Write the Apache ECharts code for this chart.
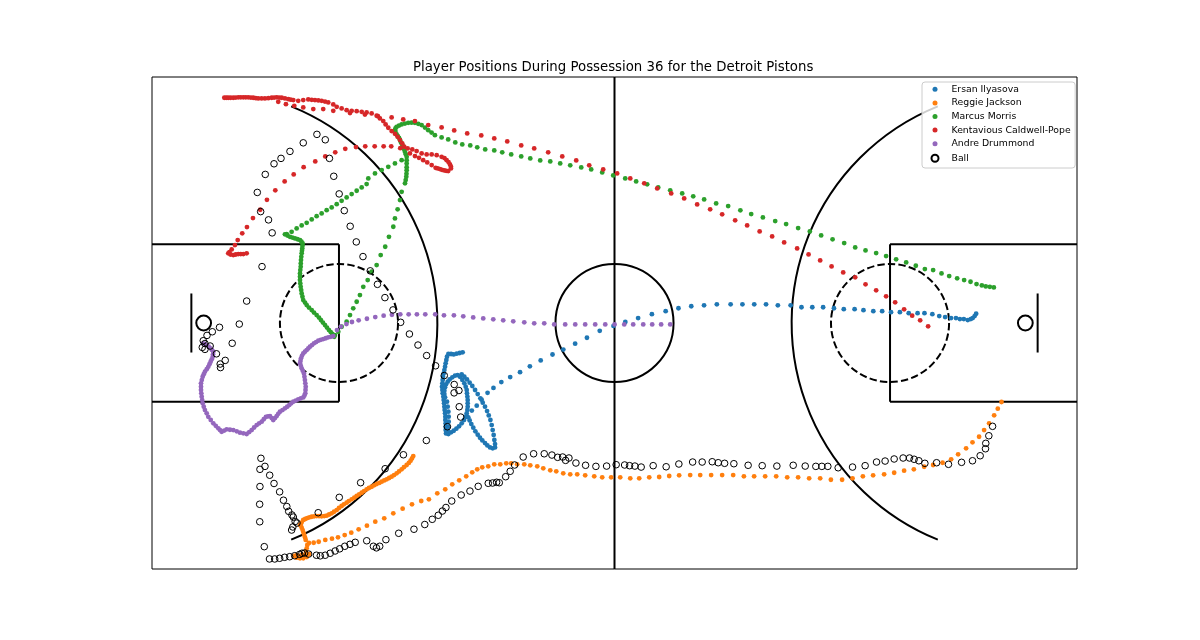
<!DOCTYPE html>
<html><head><meta charset="utf-8">
<script src="https://cdn.jsdelivr.net/npm/echarts@6/dist/echarts.min.js"></script>
<style>html,body{margin:0;padding:0;background:#fff}#chart{width:1200px;height:640px}</style>
</head><body><div id="chart"></div>
<script>
// ---- data (court coordinates in feet: x 0..94, y 0..50) ----
const chartTitle = 'Player Positions During Possession 36 for the Detroit Pistons';
const playerNames = ['Ersan Ilyasova', 'Reggie Jackson', 'Marcus Morris', 'Kentavious Caldwell-Pope', 'Andre Drummond'];
const playerColors = ['#1f77b4', '#ff7f0e', '#2ca02c', '#d62728', '#9467bd'];
const ballName = 'Ball';

const ilyasova = [
[83.75,25.94],[83.6,25.7],[83.4,25.5],[83.2,25.4],[82.9,25.3],[82.5,25.4],[82.1,25.4],[81.7,25.5],[81.2,25.5],[80.6,25.6],[80.0,25.7],[79.3,25.9],[78.5,26.0],[77.8,26.0],[76.9,26.0],[76.0,26.1],[75.1,26.1],[74.2,26.2],[73.3,26.2],[72.3,26.3],[71.4,26.4],[70.3,26.4],[69.3,26.5],[68.2,26.6],[67.1,26.6],[66.0,26.6],[64.9,26.8],[63.6,26.8],[62.4,26.9],[61.2,26.9],[60.0,26.9],[58.8,26.9],[57.4,26.9],[56.1,26.8],[54.8,26.7],[53.5,26.5],[52.2,26.2],[50.8,25.9],[49.4,25.5],[48.1,25.1],[46.9,24.7],[45.5,24.2],[44.2,23.5],[43.0,22.9],[41.8,22.3],[40.7,21.8],[39.5,21.2],[38.4,20.6],[37.4,20.0],[36.4,19.5],[35.5,19.0],[34.7,18.4],[34.1,17.9],[33.5,17.2],[33.0,16.6],[32.5,16.1],[32.0,15.5],
[31.57,22.02],[31.27,21.95],[30.96,21.88],[30.66,21.81],[30.39,21.85],[30.12,21.85],[29.98,21.58],[29.91,21.24],[29.84,20.90],[29.78,20.56],[29.71,20.22],[29.64,19.88],[29.57,19.54],[29.54,19.21],[29.51,18.87],[29.47,18.53],[29.51,18.19],[29.54,17.85],[29.61,17.51],[29.64,17.17],[29.68,16.84],[29.71,16.50],[29.74,16.16],[29.78,15.82],[29.81,15.48],[29.81,15.14],[29.84,14.80],[29.84,14.46],[29.84,14.12],[29.88,13.78],
[30.12,13.72],[30.39,13.89],[30.66,14.05],[30.93,14.26],[31.20,14.50],[31.47,14.80],[31.71,15.14],[31.88,15.48],
[31.98,15.82],[32.05,16.16],[32.08,16.50],[32.08,16.84],[32.08,17.17],[32.05,17.51],[32.01,17.85],[31.98,18.19],[31.88,18.53],[31.74,18.87],[31.54,19.21],[31.30,19.54],
[31.06,19.71],[30.79,19.65],[30.52,19.48],[30.25,19.27],[30.05,19.04],[29.88,18.77],[29.78,18.46],[29.71,18.12],[29.71,17.78],[29.78,17.45],
[29.98,17.00],[30.05,16.50],[30.12,15.99],[30.15,15.48],[30.15,14.97],[30.12,14.46],[30.05,14.06],
[31.47,19.78],[31.74,19.54],[32.01,19.27],[32.28,18.94],[32.55,18.60],[32.83,18.19],[33.10,17.78],[33.37,17.34],[33.61,16.90],[33.84,16.50],[34.05,16.05],[34.22,15.61],[34.39,15.14],[34.52,14.63],[34.62,14.12],[34.72,13.62],[34.79,13.11],[34.86,12.70],[34.86,12.36],[34.62,12.26],[34.35,12.36],[34.08,12.56],[33.84,12.80],[33.57,13.07],[33.33,13.34],[33.10,13.65],[32.86,13.99],[32.65,14.36],[32.45,14.73],[32.28,15.10],[32.14,15.41]
];

const jackson = [
[86.33,16.97],[85.95,16.29],[85.58,15.62],[85.07,14.80],[84.56,14.12],[84.05,13.44],[83.38,12.87],[82.73,12.26],[81.92,11.65],[81.21,11.15],[80.34,10.80],[79.38,10.57],[78.47,10.39],[77.42,10.13],[76.43,9.99],[75.42,9.78],[74.40,9.62],[73.28,9.52],[72.24,9.42],[71.19,9.22],[70.13,9.07],[68.99,9.07],[67.90,9.22],[66.78,9.22],[65.66,9.32],[64.55,9.32],[63.43,9.42],[62.31,9.42],[61.19,9.42],[60.15,9.42],
[59.06,9.55],[57.94,9.55],[56.82,9.55],[55.71,9.55],[54.69,9.55],[53.57,9.52],[52.56,9.45],[51.54,9.35],[50.53,9.32],[49.51,9.22],[48.60,9.22],[47.58,9.32],[46.66,9.32],[45.75,9.32],[44.94,9.42],[44.02,9.52],[43.21,9.62],[42.50,9.62],[41.79,9.72],[41.08,9.93],[40.47,10.03],[39.76,10.23],[39.15,10.43],[38.44,10.54],[37.83,10.64],[37.11,10.64],[36.50,10.74],[36.00,10.74],[35.39,10.64],[34.78,10.64],[34.17,10.43],[33.56,10.33],[33.05,10.13],[32.54,9.82],[31.93,9.42],[31.22,9.01],[30.51,8.61],[29.80,8.10],[28.99,7.69],[28.14,7.08],
[27.36,6.91],[26.42,6.57],[25.47,6.13],[24.52,5.66],[23.60,5.15],[22.69,4.81],[21.84,4.40],[21.00,4.03],[20.25,3.69],[19.58,3.45],[18.90,3.22],[18.29,3.08],[17.61,2.95],[16.94,2.77],[16.43,2.67],[15.95,2.64],[15.78,2.44],[15.72,2.10],[15.65,1.76],
[15.98,1.52],[15.54,1.37],[15.04,1.32],[14.70,1.42],[14.46,1.32],[14.70,1.15],[15.04,1.09],[15.37,1.09],[15.72,1.22],[15.34,1.32],[14.83,1.22],[15.24,1.47],
[15.62,2.95],[15.55,3.20],[15.47,3.45],[15.39,3.70],[15.31,3.96],[15.21,4.20],[15.11,4.47],
[15.04,4.47],[15.20,4.72],[15.37,4.98],[15.57,5.08],[15.78,5.18],[16.00,5.25],[16.23,5.31],[16.48,5.35],[16.73,5.38],[16.98,5.37],[17.24,5.35],[17.50,5.38],[17.75,5.42],[18.00,5.54],[18.26,5.66],[18.50,5.82],[18.77,5.99],[19.00,6.20],[19.27,6.40],[19.50,6.57],[19.78,6.74],[20.00,6.90],[20.29,7.08],[20.55,7.25],[20.80,7.42],[21.05,7.58],[21.31,7.75],[21.55,7.92],[21.81,8.10],[22.05,8.23],[22.32,8.36],[22.57,8.50],[22.83,8.64],[23.10,8.75],[23.34,8.87],[23.60,9.00],[23.85,9.11],[24.10,9.25],[24.35,9.38],[24.60,9.55],[24.86,9.72],[25.10,9.92],[25.37,10.13],[25.60,10.35],[25.88,10.57],[26.10,10.78],[26.28,11.00],[26.42,11.24],[26.55,11.48]
];

const morris = [
[85.55,28.62],[85.14,28.68],[84.73,28.72],[84.33,28.82],[83.79,28.96],[83.18,29.19],[82.53,29.36],[81.82,29.54],[81.01,29.77],[80.23,30.04],[79.38,30.38],[78.54,30.48],[77.62,30.82],[76.64,31.16],[75.62,31.47],[74.60,31.80],[73.59,32.11],[72.51,32.38],[71.46,32.68],[70.34,33.12],[69.16,33.50],[68.00,33.90],[66.85,34.31],[65.66,34.65],[64.44,35.05],[63.33,35.36],[62.08,35.73],[60.89,36.07],[59.79,36.45],[58.55,36.88],[57.33,37.15],[56.11,37.56],[55.00,37.87],[53.88,38.17],[52.66,38.48],[51.44,38.78],[50.32,39.09],[49.20,39.39],[48.09,39.69],[46.87,40.00],[45.75,40.30],[44.63,40.61],[43.62,40.81],[42.50,41.02],[41.48,41.22],[40.47,41.42],[39.45,41.52],[38.44,41.73],[37.52,41.93],[36.50,42.13],[35.59,42.34],[34.78,42.54],[33.86,42.64],[33.05,42.85],[32.34,43.05],[31.53,43.15],[30.82,43.35],[30.10,43.66],[29.43,43.86],
[28.75,44.09],[28.41,44.35],[28.07,44.60],[27.74,44.86],[27.40,45.11],[27.06,45.24],[26.72,45.34],[26.38,45.36],[26.04,45.34],[25.70,45.27],[25.37,45.18],[25.10,45.06],[24.86,44.94],[24.74,44.77],[24.69,44.60],[24.74,44.40],[24.86,44.17],[24.98,43.99],[25.10,43.82],[25.20,43.60],[25.30,43.35],[25.42,43.13],[25.53,42.91],[25.62,42.65],[25.70,42.40],[25.79,42.15],[25.88,41.89],
[25.88,41.55],[25.88,41.22],[25.88,40.84],[25.88,40.53],[25.86,40.18],[25.84,39.86],[25.78,39.52],[25.71,39.19],
[25.37,38.33],[25.20,37.49],[24.96,36.55],[24.69,35.63],[24.52,34.78],[24.08,33.76],[23.70,32.75],[23.24,31.90],[22.83,30.89],[22.32,30.21],[21.92,29.36],[21.47,28.68],[21.13,27.84],[20.80,27.16],[20.45,26.49],[20.12,25.81],[19.78,25.13],[19.27,24.62],[18.93,24.11],[18.59,23.77],
[25.37,41.55],[24.69,41.22],[24.01,40.87],[23.34,40.54],[22.66,40.20],[21.98,39.69],[21.81,39.12],[21.31,38.78],[20.80,38.44],[20.29,38.10],[19.78,37.76],[19.27,37.42],[18.77,37.08],[18.26,36.75],[17.75,36.47],[17.24,36.14],[16.73,35.86],[16.23,35.53],[15.72,35.18],[15.21,34.92],[14.70,34.61],[14.19,34.27],[13.69,34.04],
[13.51,34.01],[13.77,33.89],[14.02,33.76],[14.27,33.68],[14.53,33.60],[14.79,33.51],[15.04,33.43],[15.19,33.26],[15.31,33.09],[15.29,32.84],[15.27,32.58],[15.24,32.33],[15.21,32.08],[15.17,31.73],[15.14,31.39],[15.12,31.05],[15.11,30.71],[15.07,30.38],[15.04,30.04],[15.04,29.70],[15.04,29.36],[15.07,29.02],[15.11,28.68],[15.16,28.35],[15.21,28.01],[15.29,27.67],[15.37,27.33],[15.55,27.08],[15.72,26.82],[15.95,26.57],[16.23,26.31],[16.46,26.06],[16.73,25.81],[16.97,25.55],[17.17,25.30],[17.37,25.04],[17.58,24.79],[17.78,24.54],[17.98,24.28],[18.16,24.08],[18.32,23.88],[18.52,23.60]
];

const caldwellPope = [
[78.87,24.66],[78.06,25.27],[77.25,25.74],[76.43,26.39],[75.52,27.10],[74.60,27.71],[73.59,28.32],[72.51,28.93],[71.46,29.64],[70.24,30.14],[69.06,30.75],[67.90,31.36],[66.72,31.97],[65.56,32.58],[64.24,33.19],[63.02,33.80],[61.75,34.31],[60.48,34.92],[59.26,35.43],[57.94,36.04],[56.72,36.55],[55.40,37.05],[54.08,37.66],[52.76,38.17],[51.34,38.68],[50.02,39.19],[48.60,39.69],[47.27,40.20],[45.85,40.61],[44.43,41.02],[43.11,41.52],[41.69,41.93],[40.26,42.34],[38.84,42.74],[37.52,43.05],[36.10,43.45],[34.78,43.76],[33.46,44.06],[32.03,44.27],[30.71,44.57],[29.43,44.88],[28.07,45.11],[26.72,45.52],[25.53,45.69],[24.35,45.89],[22.96,46.02],[21.64,46.18],[20.12,46.33],[18.42,46.56],[17.40,46.74],[16.39,46.74],[15.37,46.91],[14.46,47.07],[13.61,47.24],[12.83,47.48],
[7.35,47.89],[7.55,47.89],[7.75,47.89],[7.99,47.89],[8.26,47.89],[8.51,47.91],[8.77,47.93],[9.02,47.93],[9.28,47.93],[9.53,47.93],[9.78,47.93],[10.04,47.91],[10.29,47.89],[10.55,47.85],[10.80,47.82],[11.14,47.82],[11.48,47.82],[11.82,47.85],[12.16,47.89],[12.41,47.91],[12.67,47.93],[12.92,47.91],[13.18,47.89],[13.51,47.82],[13.85,47.75],[14.10,47.70],[14.36,47.65],[14.86,47.58],[15.37,47.65],[15.88,47.72],[16.23,47.68],[16.56,47.65],[16.90,47.62],[17.24,47.58],[17.58,47.50],[17.91,47.42],[18.42,47.21],[18.77,46.97],[19.27,46.81],[19.78,46.63],[20.29,46.56],[20.80,46.53],[21.31,46.46],[21.81,46.40],[22.32,46.30],[22.83,46.06],[23.16,45.79],[23.50,45.52],[23.74,45.18],[24.01,44.84],[24.35,44.50],[24.69,44.23],[24.96,43.92],[25.20,43.59],[25.43,43.25],[25.63,42.91],[25.98,42.74],[26.45,42.64],[26.89,42.47],[27.40,42.23],[27.91,42.13],[28.42,42.13],[28.93,42.06],[29.43,41.89],[29.72,41.76],[29.94,41.55],[30.13,41.35],[30.28,41.12],[30.38,40.89],[30.38,40.71],[30.10,40.44],[29.90,40.47],[29.70,40.51],[29.47,40.57],[29.26,40.64],[29.03,40.71],[28.82,40.77],[28.42,41.05],[27.97,41.32],[27.56,41.55],[27.13,41.79],[26.72,41.96],[26.21,42.23],
[25.23,42.77],[24.31,42.95],[23.54,42.95],[22.63,42.95],[21.67,42.95],[20.73,42.88],[19.64,42.70],[18.62,42.34],[17.61,41.93],[16.59,41.42],[15.41,40.84],[14.40,40.10],[13.48,39.39],[12.53,38.48],[11.68,37.52],[11.00,36.51],[10.26,35.66],[9.65,34.75],[9.17,34.11],[8.71,33.43],[8.43,32.92],[8.10,32.48],[7.87,32.21],[7.75,32.08],[7.98,31.96],[8.26,31.90],[8.51,31.96],[8.77,32.00],[9.02,32.00],[9.28,32.00],[9.62,32.08]
];

const drummond = [
[52.66,24.86],[51.74,24.86],[50.83,24.86],[49.92,24.86],[48.90,24.86],[47.99,24.86],[47.01,24.86],[46.06,24.86],[45.04,24.86],[44.02,24.86],[43.01,24.86],[41.99,24.86],[40.87,24.86],[39.86,24.97],[38.84,24.97],[37.83,25.07],[36.71,25.17],[35.69,25.27],[34.68,25.37],[33.66,25.47],[32.64,25.57],[31.63,25.68],[30.68,25.78],[29.67,25.78],[28.78,25.88],[27.77,25.88],[26.92,25.88],[26.08,25.88],[25.23,25.88],[24.38,25.84],[23.54,25.74],[22.69,25.60],[21.84,25.43],[21.00,25.27],[20.32,25.10],[19.76,24.89],[19.20,24.64],[18.80,24.28],[18.42,23.67],
[18.17,23.60],[17.91,23.54],[17.66,23.45],[17.40,23.37],[17.15,23.29],[16.90,23.20],[16.68,23.06],[16.46,22.93],[16.26,22.76],[16.05,22.59],[15.88,22.42],[15.72,22.25],[15.54,22.08],[15.37,21.91],[15.24,21.66],[15.14,21.41],[15.09,21.15],[15.04,20.90],[15.12,20.65],[15.21,20.39],[15.32,20.14],[15.44,19.88],[15.49,19.54],[15.54,19.20],[15.58,18.87],[15.62,18.52],[15.60,18.19],[15.58,17.85],[15.49,17.63],[15.37,17.44],[15.12,17.34],[14.86,17.24],[14.61,17.12],[14.36,17.00],[14.15,16.84],[13.95,16.66],[13.74,16.49],[13.51,16.33],[13.26,16.15],[13.00,15.98],[12.83,15.77],[12.67,15.54],[12.50,15.34],[12.32,15.14],[12.16,15.34],[11.99,15.54],[11.79,15.51],[11.58,15.47],[11.36,15.22],[11.15,14.97],[10.89,14.80],[10.64,14.63],[10.38,14.38],[10.13,14.12],[9.88,13.92],[9.62,13.72],[9.28,13.79],[8.94,13.85],[8.61,13.99],[8.26,14.12],[7.92,14.15],[7.59,14.19],[7.34,14.07],[7.08,13.95],[6.91,14.12],[6.74,14.30],[6.48,14.55],[6.23,14.80],[5.97,15.14],[5.72,15.47],[5.56,15.82],[5.38,16.15],[5.26,16.49],[5.15,16.84],[5.10,17.17],[5.05,17.51],[5.01,17.85],[4.98,18.19],[4.98,18.52],[4.98,18.87],[5.06,19.20],[5.15,19.54],[5.26,19.79],[5.38,20.05],[5.56,20.30],[5.72,20.55],[5.84,20.81],[5.96,21.06],[6.07,21.31],[6.17,21.57],[6.20,21.82],[6.23,22.08],[6.10,22.25],[5.96,22.42],[5.76,22.59],[5.56,22.76],[5.38,22.84],[5.21,22.93]
];

const ballPositions = [
[16.76,44.17],[17.61,43.62],[15.37,43.31],[14.02,42.44],[13.11,41.73],[12.40,41.18],[11.51,40.10],[10.70,38.27],[11.04,36.32],[11.84,35.48],[12.21,34.16],[11.18,30.73],[9.62,27.23],[8.87,24.89],
[18.03,41.73],[18.47,39.91],[19.02,38.12],[19.54,36.42],[20.14,34.83],[20.76,33.24],[21.44,31.75],[22.18,30.30],[22.91,28.93],[23.67,27.58],[24.49,26.33],[25.27,25.07],[26.16,23.88],[27.03,22.76],[27.91,21.69],[28.82,20.65],[29.70,19.66],[30.71,18.75],[31.19,18.14],[30.70,17.90],[31.22,16.49],[31.37,15.44],[30.02,14.46],[27.88,13.06],[25.55,11.61],[23.69,10.19],[21.20,8.77],[19.03,7.28],[16.89,5.72],
[6.86,24.56],[6.13,24.11],[5.59,23.74],[5.21,23.20],[5.38,22.91],[5.91,22.66],[5.11,22.52],[5.38,22.32],[8.15,22.94],[6.55,21.87],[7.44,21.20],[6.93,20.83],[6.96,20.47],
[11.07,11.25],[11.48,10.43],[10.97,10.13],[11.96,9.53],[12.40,8.69],[10.97,8.38],[12.97,7.84],[13.36,6.99],[13.70,6.35],[13.89,5.86],[14.22,5.49],[14.36,5.28],[14.55,4.83],[14.73,4.67],[14.31,4.27],[14.19,3.96],[10.94,6.58],[10.95,4.80],[11.41,2.27],[11.94,1.02],
[12.47,1.02],[12.97,1.09],[13.48,1.19],[13.99,1.25],[14.50,1.35],[15.01,1.49],[15.24,1.60],[15.51,1.63],[15.92,1.52],[16.71,1.40],[17.10,1.34],[17.60,1.40],[18.11,1.60],[18.61,1.83],[19.07,2.05],[19.59,2.31],[20.12,2.51],[20.65,2.71],[21.82,2.87],[22.50,2.31],[22.81,2.15],[23.14,2.31],[23.77,2.98],[25.07,3.63],[26.62,4.04],[27.72,4.52],[28.48,5.05],[29.09,5.46],[29.51,5.89],[29.87,6.25],[30.46,6.91],[31.42,7.52],[32.31,7.92],[33.15,8.40],[34.17,8.71],[34.61,8.74],[35.02,8.81],[35.29,8.77],[35.94,9.38],[36.40,9.93],[36.85,10.57],[37.72,11.38],[38.78,11.71],[39.86,11.71],[40.64,11.58],[41.22,11.35],[41.73,11.38],[42.03,11.04],[42.37,11.28],[43.08,10.77],[44.06,10.54],[45.11,10.43],[46.20,10.46],[47.17,10.60],[48.03,10.57],[48.53,10.50],[49.07,10.46],[49.71,10.36],[50.93,10.50],[52.25,10.39],[53.54,10.67],[54.94,10.87],[55.91,10.87],[56.93,10.90],[57.54,10.80],[58.19,10.74],[59.13,10.70],[60.58,10.54],[62.01,10.50],[63.50,10.46],[65.16,10.54],[66.38,10.46],[67.46,10.43],[68.07,10.43],[68.68,10.43],[69.73,10.29],[71.19,10.36],[72.47,10.50],[73.63,10.87],[74.50,10.97],[75.42,11.18],[76.33,11.28],[76.98,11.28],[77.45,11.15],[77.93,11.00],[78.54,10.74],[79.73,10.80],[80.94,10.64],[82.27,10.84],[83.38,11.00],[84.16,11.51],[84.70,12.22],[84.73,12.77],[85.04,13.54],[85.42,14.50]
];

// court geometry (feet): straight lines [x1, y1, x2, y2]
const courtLines = [
  [47, 0, 47, 50],
  [0, 17, 19, 17], [19, 17, 19, 33], [19, 33, 0, 33],
  [94, 17, 75, 17], [75, 17, 75, 33], [75, 33, 94, 33],
  [4, 22, 4, 28], [90, 22, 90, 28]
];
// arcs [cx, cy, radius, startDeg, endDeg, dashed]
const courtArcs = [
  [47, 25, 6, 0, 360, 0],
  [19, 25, 6, 0, 360, 1],
  [75, 25, 6, 0, 360, 1],
  [5.25, 25, 0.75, 0, 360, 0],
  [88.75, 25, 0.75, 0, 360, 0],
  [5.25, 25, 23.75, -68, 68, 0],
  [88.75, 25, 23.75, 112, 248, 0]
];

const playerTracks = [ilyasova, jackson, morris, caldwellPope, drummond];

// ---- chart ----
const chart = echarts.init(document.getElementById('chart'), null, {renderer: 'canvas'});
const FONT = 'DejaVu Sans';
const dotIcon = 'path://M0,0M16,10M7,5A2.5,2.5,0,1,1,2,5A2.5,2.5,0,1,1,7,5Z';
const ringIcon = 'path://M0,0M16,10M8,5A3.5,3.5,0,1,1,1,5A3.5,3.5,0,1,1,8,5Z';

const series = [
  {
    type: 'custom', name: 'courtLines', silent: true, z: 1, clip: false,
    encode: {x: [0, 2], y: [1, 3]},
    data: courtLines,
    renderItem: function (params, api) {
      const p1 = api.coord([api.value(0), api.value(1)]);
      const p2 = api.coord([api.value(2), api.value(3)]);
      return {type: 'line', shape: {x1: p1[0], y1: p1[1], x2: p2[0], y2: p2[1]},
        style: {stroke: '#000', lineWidth: 2}};
    }
  },
  {
    type: 'custom', name: 'courtArcs', silent: true, z: 1, clip: false,
    encode: {x: 0, y: 1},
    data: courtArcs,
    renderItem: function (params, api) {
      const c = api.coord([api.value(0), api.value(1)]);
      const r = api.size([api.value(2), 0])[0];
      const dashed = api.value(5) === 1;
      return {type: 'arc', shape: {cx: c[0], cy: c[1], r: r,
          startAngle: api.value(3) * Math.PI / 180, endAngle: api.value(4) * Math.PI / 180, clockwise: true},
        style: {stroke: '#000', fill: 'none', lineWidth: 2, lineDash: dashed ? [7.4, 3.2] : null}};
    }
  }
];
playerTracks.forEach(function (track, i) {
  series.push({
    type: 'scatter', name: playerNames[i], data: track, symbol: 'circle', symbolSize: 4.8, z: 3,
    itemStyle: {color: playerColors[i], opacity: 1, borderWidth: 0}, silent: true
  });
});
series.push({
  type: 'scatter', name: ballName, data: ballPositions, symbol: 'circle', symbolSize: 6.6, z: 4,
  itemStyle: {color: 'rgba(0,0,0,0)', borderColor: '#000', borderWidth: 1, opacity: 1}, silent: true
});

chart.setOption({
  animation: false,
  backgroundColor: '#fff',
  title: {
    text: chartTitle, left: 413, top: 60, padding: 0,
    textStyle: {fontFamily: FONT, fontSize: 13.3, fontWeight: 'normal', color: '#000', lineHeight: 16}
  },
  grid: {left: 152, top: 77, width: 925, height: 492, show: true, borderColor: '#000', borderWidth: 1, backgroundColor: 'transparent'},
  xAxis: {type: 'value', min: 0, max: 94, show: false},
  yAxis: {type: 'value', min: 0, max: 50, show: false},
  legend: {
    left: 922, top: 82, orient: 'vertical', selectedMode: false,
    padding: [2.3, 4.5, 3.7, 7.5], itemWidth: 16, itemHeight: 10, itemGap: 3.6,
    backgroundColor: 'rgba(255,255,255,0.8)', borderColor: '#cccccc', borderWidth: 1, borderRadius: 3,
    textStyle: {fontFamily: FONT, fontSize: 9.3, color: '#000', lineHeight: 10},
    data: playerNames.map(function (n) { return {name: n, icon: dotIcon}; }).concat([{name: ballName, icon: ringIcon}])
  },
  series: series
});
</script></body></html>
